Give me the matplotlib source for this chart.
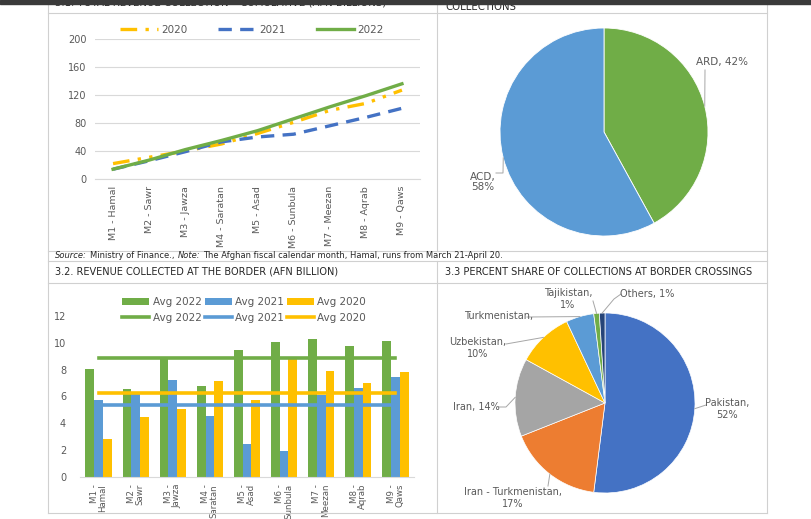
import matplotlib
matplotlib.use("Agg")
import matplotlib.pyplot as plt
import numpy as np
from matplotlib.lines import Line2D
from matplotlib.patches import Patch, Rectangle

# ---- data ----
months = ["M1 - Hamal", "M2 - Sawr", "M3 - Jawza", "M4 - Saratan", "M5 - Asad",
          "M6 - Sunbula", "M7 - Meezan", "M8 - Aqrab", "M9 - Qaws"]
month_labels_2line = ["M1 -\nHamal", "M2 -\nSawr", "M3 -\nJawza", "M4 -\nSaratan", "M5 -\nAsad",
                      "M6 -\nSunbula", "M7 -\nMeezan", "M8 -\nAqrab", "M9 -\nQaws"]

cum_2020 = [22, 31, 40, 50, 65, 81, 98, 108, 127]
cum_2021 = [14, 26, 39, 53, 60, 64, 76, 88, 101]
cum_2022 = [14, 27, 42, 55, 69, 86, 103, 119, 136]

border_2022 = [8.07, 6.58, 8.9, 6.76, 9.5, 10.04, 10.26, 9.79, 10.1]
border_2021 = [5.71, 6.16, 7.2, 4.55, 2.43, 1.91, 6.09, 6.6, 7.43]
border_2020 = [2.83, 4.47, 5.04, 7.13, 5.71, 8.82, 7.88, 7.0, 7.8]

coll_names = ["ARD", "ACD"]
coll_share = [42, 58]

cross_names = ["Pakistan", "Iran - Turkmenistan", "Iran", "Uzbekistan",
               "Turkmenistan", "Tajikistan", "Others"]
cross_share = [52, 17, 14, 10, 5, 1, 1]

GREEN = "#70AD47"
BLUE = "#4472C4"
LBLUE = "#5B9BD5"
GOLD = "#FFC000"
TXT = "#595959"
GRID = "#D9D9D9"

plt.rcParams["font.family"] = "DejaVu Sans"

W, H = 811, 519
fig = plt.figure(figsize=(W / 100, H / 100), dpi=100)
fig.patch.set_facecolor("white")


def rect(l, t, r, b):
    return [l / W, 1 - b / H, (r - l) / W, (b - t) / H]


def fx(x):
    return x / W


def fy(y):
    return 1 - y / H


def hline(y, x0, x1, c="#D0D0D0"):
    fig.add_artist(Line2D([fx(x0), fx(x1)], [fy(y), fy(y)], color=c, lw=0.8))


def vline(x, y0, y1, c="#D0D0D0"):
    fig.add_artist(Line2D([fx(x), fx(x)], [fy(y0), fy(y1)], color=c, lw=0.8))


# page frame
hline(13, 48, 767)
hline(251, 48, 767)
hline(261, 48, 767)
hline(283, 48, 767)
hline(513, 48, 767)
vline(48, 0, 513)
vline(767, 0, 513)
vline(437, 0, 251)
vline(437, 261, 513)

# headings (the first one is cut by the top edge of the page)
fig.text(fx(55), fy(2.5), "3.1. TOTAL REVENUE COLLECTION \u2013 CUMULATIVE (AFN BILLIONS)",
         fontsize=7.3, color="#262626", va="center", ha="left")
fig.text(fx(445), fy(7), "COLLECTIONS", fontsize=7.3, color="#262626", va="center", ha="left")
fig.text(fx(55), fy(272), "3.2. REVENUE COLLECTED AT THE BORDER (AFN BILLION)",
         fontsize=7.0, color="#262626", va="center", ha="left")
fig.text(fx(445), fy(272), "3.3 PERCENT SHARE OF COLLECTIONS AT BORDER CROSSINGS",
         fontsize=7.0, color="#262626", va="center", ha="left")

# source line with italic parts
renderer = fig.canvas.get_renderer()
xpos = 55
for piece, style in [("Source:", "italic"), ("Ministry of Finance.,", "normal"),
                     ("Note:", "italic"),
                     ("The Afghan fiscal calendar month, Hamal, runs from March 21-April 20.", "normal")]:
    t = fig.text(fx(xpos), fy(256), piece, fontsize=6.0, style=style, color="#262626",
                 va="center", ha="left")
    xpos += t.get_window_extent(renderer).width + 3

# dark band along top edge
fig.add_artist(Rectangle((0, fy(4)), 1, 4 / H, transform=fig.transFigure,
                         color="#3a3a3a", zorder=10))

# ---- 3.1 cumulative line chart ----
ax1 = fig.add_axes(rect(95, 39, 420, 179))
x = np.arange(len(months))
l20, = ax1.plot(x, cum_2020, color=GOLD, lw=2.4, dashes=(5, 2.5, 1, 2.5, 1, 2.5), label="2020")
l21, = ax1.plot(x, cum_2021, color=BLUE, lw=2.4, dashes=(4, 2.5), label="2021")
l22, = ax1.plot(x, cum_2022, color=GREEN, lw=2.4, label="2022")
ax1.set_xlim(-0.5, 8.5)
ax1.set_ylim(0, 200)
ax1.set_yticks(range(0, 201, 40))
ax1.grid(axis="y", color=GRID, lw=0.8)
ax1.set_axisbelow(True)
for s in ["top", "right", "left"]:
    ax1.spines[s].set_visible(False)
ax1.spines["bottom"].set_color(GRID)
ax1.tick_params(length=0, labelsize=7, colors=TXT, pad=6)
ax1.set_xticks(x)
ax1.set_xticklabels(months, rotation=90, fontsize=6.8, ha="center", va="top")
ax1.tick_params(axis="x", pad=5)
fig.legend(handles=[l20, l21, l22], loc="center", bbox_to_anchor=(fx(252), fy(30)),
           ncol=3, frameon=False, fontsize=7.5, handlelength=3.6, columnspacing=3.0,
           handletextpad=0.3, labelcolor=TXT)

# ---- 3.2 border revenue bars ----
ax2 = fig.add_axes(rect(80, 316, 414, 477))
bw = 0.235
b22 = ax2.bar(x - bw, border_2022, bw, color=GREEN, label="Avg 2022")
b21 = ax2.bar(x, border_2021, bw, color=LBLUE, label="Avg 2021")
b20 = ax2.bar(x + bw, border_2020, bw, color=GOLD, label="Avg 2020")
a22, = ax2.plot(x, [np.mean(border_2022)] * len(x), color=GREEN, lw=2.6, label="Avg 2022")
a21, = ax2.plot(x, [np.mean(border_2021)] * len(x), color=LBLUE, lw=2.6, label="Avg 2021")
a20, = ax2.plot(x, [np.mean(border_2020)] * len(x), color=GOLD, lw=2.6, label="Avg 2020")
ax2.set_xlim(-0.5, 8.5)
ax2.set_ylim(0, 12)
ax2.set_yticks(range(0, 13, 2))
for s in ["top", "right", "left"]:
    ax2.spines[s].set_visible(False)
ax2.spines["bottom"].set_color(GRID)
ax2.tick_params(length=0, labelsize=7, colors=TXT, pad=10)
ax2.set_xticks(x)
ax2.set_xticklabels(month_labels_2line, rotation=90, fontsize=6.2, ha="center", va="top",
                    multialignment="right", linespacing=0.95)
ax2.tick_params(axis="x", pad=5)
fig.legend(handles=[b22, a22, b21, a21, b20, a20], loc="center",
           bbox_to_anchor=(fx(244), fy(310)), ncol=3, frameon=False, fontsize=7.5,
           handlelength=2.6, handleheight=0.6, columnspacing=0.3, handletextpad=0.3,
           labelspacing=0.5, labelcolor=TXT)

# ---- pie: collections ----
cx1, cy1, r1 = 604, 132, 104
axp1 = fig.add_axes(rect(438, 14, 766, 250))
axp1.axis("off")
w1, _ = axp1.pie(coll_share, colors=[GREEN, LBLUE], startangle=90, counterclock=False,
                 radius=1, wedgeprops=dict(edgecolor="white", linewidth=0.6))
axp1.set_xlim((438 - cx1) / r1, (766 - cx1) / r1)
axp1.set_ylim((cy1 - 250) / r1, (cy1 - 14) / r1)
axp1.set_aspect("auto")


def px1(px, py):
    return (px - cx1) / r1, (cy1 - py) / r1


def mid_edge(w):
    a = np.deg2rad((w.theta1 + w.theta2) / 2)
    return np.cos(a), np.sin(a)


# label format, label centre (px), leader bends (px)
pie1_text = [("{}, {}%", (722, 62), [(705, 70)]),
             ("{},\n{}%", (483, 182), [(503, 173), (496, 173)])]
for w, name, v, (fmt, tp, pts) in zip(w1, coll_names, coll_share, pie1_text):
    ex, ey = mid_edge(w)
    path = [(ex, ey)] + [px1(*p) for p in pts]
    axp1.plot([p[0] for p in path], [p[1] for p in path], color="#A6A6A6", lw=0.7)
    axp1.text(*px1(*tp), fmt.format(name, v), fontsize=7.5, color=TXT, ha="center",
              va="center", linespacing=1.1)

# ---- pie: border crossings ----
cx2, cy2, r2 = 605, 403, 90
axp2 = fig.add_axes(rect(438, 284, 766, 512))
axp2.axis("off")
w2, _ = axp2.pie(cross_share, colors=[BLUE, "#ED7D31", "#A5A5A5", GOLD, LBLUE, GREEN, "#264478"],
                 startangle=90, counterclock=False, radius=1,
                 wedgeprops=dict(edgecolor="white", linewidth=0.5))
axp2.set_xlim((438 - cx2) / r2, (766 - cx2) / r2)
axp2.set_ylim((cy2 - 512) / r2, (cy2 - 284) / r2)
axp2.set_aspect("auto")


def px2(px, py):
    return (px - cx2) / r2, (cy2 - py) / r2


pie2_text = [("{},\n{}%", (727, 409), [(706, 405)]),
             ("{},\n{}%", (513, 498), [(548, 486)]),
             ("{}, {}%", (476, 407), [(506, 407), (498, 407)]),
             ("{},\n{}%", (478, 348), [(506, 344)]),
             ("{},", (499, 316), [(527, 317)]),
             ("{},\n{}%", (568, 299), [(593, 301)]),
             ("{}, {}%", (647, 294), [(614, 299), (621, 294)])]
for w, name, v, (fmt, tp, pts) in zip(w2, cross_names, cross_share, pie2_text):
    ex, ey = mid_edge(w)
    path = [(ex, ey)] + [px2(*p) for p in pts]
    axp2.plot([p[0] for p in path], [p[1] for p in path], color="#A6A6A6", lw=0.7)
    axp2.text(*px2(*tp), fmt.format(name, v), fontsize=7, color=TXT, ha="center",
              va="center", linespacing=1.15)

fig.savefig("out.png", dpi=100)
